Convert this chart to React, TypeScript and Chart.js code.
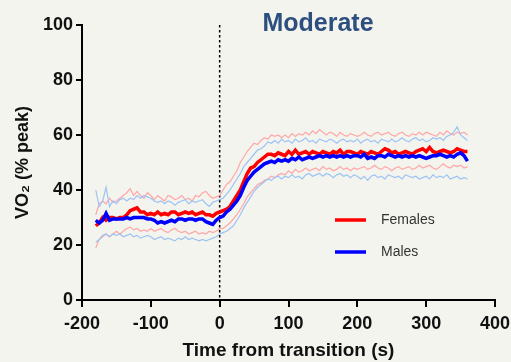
import React, { useEffect, useRef } from "react";
import { Chart, registerables } from "chart.js";

Chart.register(...registerables);

// Time from transition (s), 5-s bins
const times = [
  -180, -175, -170, -165, -160, -155, -150, -145, -140, -135, -130, -125, -120, -115, -110, -105, -100, -95, -90, -85,
  -80, -75, -70, -65, -60, -55, -50, -45, -40, -35, -30, -25, -20, -15, -10, -5, 0,
  5, 10, 15, 20, 25, 30, 35, 40, 45, 50, 55, 60, 65, 70, 75, 80, 85, 90, 95, 100,
  105, 110, 115, 120, 125, 130, 135, 140, 145, 150, 155, 160, 165, 170, 175, 180, 185, 190, 195, 200,
  205, 210, 215, 220, 225, 230, 235, 240, 245, 250, 255, 260, 265, 270, 275, 280, 285, 290, 295, 300,
  305, 310, 315, 320, 325, 330, 335, 340, 345, 350, 355, 360,
];

// VO2 (% peak) — females, mean
const femalesMean = [
  27, 28, 30, 29, 30, 30, 29.5, 30, 30, 31, 32.5, 33, 33.5, 32, 32, 31, 31.5, 31, 32, 31,
  31.5, 31, 32, 32, 31, 31.5, 32, 31.5, 32, 31, 31.5, 32, 31, 31, 30.5, 31.5, 32,
  32.5, 33, 34, 36, 38, 40, 43, 46, 48, 48.5, 50, 51, 52, 53, 53, 52.5, 53.5, 53, 52.5, 54,
  53, 54.5, 53, 53.5, 54, 53, 54, 53.5, 53, 54, 53.5, 53, 54, 53.5, 54.5, 53, 54, 54, 53.5, 53,
  54, 53.5, 53, 54, 53.5, 53, 54, 55, 54.5, 53.5, 54, 53, 53.5, 54, 53.5, 53, 54, 54.5, 55, 54,
  55.5, 54, 53.5, 54, 54.5, 54, 53.5, 54, 55, 54.5, 54, 54,
];
// females, mean + SD
const femalesHigh = [
  31, 35, 36, 35, 37, 35.5, 36, 37, 38, 39, 40.5, 38, 39.5, 38, 37, 39, 38, 36.5, 38, 37,
  36, 38, 37.5, 36.5, 37, 38, 36.5, 37, 36, 38, 37.5, 39, 39.5, 38, 37, 37.5, 38,
  40, 42, 43, 45, 47, 50, 52, 54, 55.5, 57, 56.5, 58, 59, 58.5, 60, 59.5, 60, 59, 60, 59,
  60.5, 59.5, 60.5, 60, 61, 60, 61.5, 60.5, 62, 61, 60, 61, 60.5, 59.5, 61, 60, 59.5, 60.5, 60, 59.5,
  60, 61, 60, 59.5, 60.5, 61, 60, 60.5, 61, 60, 59.5, 60.5, 61, 60, 59.5, 60.5, 60, 61, 60, 61,
  60.5, 60, 59.5, 61, 60, 61.5, 60.5, 60, 61, 60.5, 61, 60,
];
// females, mean - SD
const femalesLow = [
  19, 22, 23, 24, 23, 24, 25, 24, 25, 26, 26.5, 25.5, 26, 25, 25.5, 25, 26, 25, 25.5, 26,
  25, 24.5, 25.5, 26, 25, 24.5, 25, 24, 24.5, 25, 24, 24.5, 24, 25, 24.5, 25, 26,
  26, 27, 28, 29.5, 31, 33, 35, 37.5, 39, 40.5, 42, 42.5, 43.5, 44, 45, 44.5, 45.5, 46, 45.5, 47,
  46, 47.5, 46.5, 47, 48, 47, 47.5, 48, 47, 48.5, 47.5, 48, 47, 47.5, 48.5, 47.5, 48, 47, 48, 47.5,
  48, 48.5, 47.5, 48, 49, 48, 47.5, 48.5, 48, 47, 48, 48.5, 47.5, 48, 48.5, 47.5, 48, 49, 48, 48.5,
  49, 48, 47.5, 48.5, 49.5, 48.5, 48, 49, 48.5, 49, 48, 48.5,
];

// males, mean
const malesMean = [
  29, 28, 29, 31.5, 29, 29.5, 29.5, 29.5, 29.5, 30, 29.5, 30, 30, 30, 30, 29.5, 29.5, 29, 28, 28.5,
  28, 28.5, 29, 28.5, 29.5, 29.5, 29, 29.5, 29.5, 29, 29.5, 29.5, 28.5, 28, 27.5, 29, 30,
  30.5, 32, 33, 34.5, 36, 38, 41, 43.5, 45, 46.5, 47.5, 48.5, 49.5, 50, 50.5, 50, 51, 50.5, 51, 50.5,
  51.5, 51, 52, 51, 51.5, 52, 51.5, 52, 52.5, 52, 52.5, 52, 52.5, 52, 52.5, 52, 52.5, 52, 52.5, 52.5,
  52, 53, 51.5, 52, 51.5, 52.5, 52.5, 52, 53, 52.5, 52, 52.5, 52, 52.5, 52, 52.5, 52, 52.5, 52, 51.5,
  52, 52.5, 52.5, 53, 52.5, 52, 52.5, 52, 53, 53.5, 52.5, 50.5,
];
// males, mean + SD
const malesHigh = [
  40, 34, 36, 41, 34, 36, 35, 36.5, 37, 36, 37, 36.5, 38, 37, 38, 37.5, 37, 36, 35.5, 36,
  35, 36, 35.5, 34.5, 35.5, 36, 36.5, 35, 36, 35.5, 36, 36.5, 35, 34, 35.5, 36, 36.5,
  37, 38.5, 40, 42, 44, 46, 48.5, 50, 51.5, 53, 54.5, 55, 56, 57.5, 57, 58, 57, 58.5, 57.5, 58,
  57, 58.5, 57.5, 58, 59, 57.5, 58, 57, 58.5, 58, 57.5, 58.5, 58, 57, 58, 58.5, 57.5, 58, 57.5, 58.5,
  57, 58, 58.5, 57.5, 58, 57, 58.5, 58, 57.5, 58.5, 57.5, 58, 59, 58, 57.5, 58.5, 59, 58, 58.5, 57.5,
  58, 59, 58.5, 59, 58, 59.5, 60, 61, 63, 60, 59, 58,
];
// males, mean - SD
const malesLow = [
  21, 22, 23.5, 24, 23, 24, 23.5, 24, 23, 23.5, 24, 23, 23.5, 22.5, 23, 23.5, 23, 22, 22.5, 23,
  22, 22.5, 22, 21.5, 22.5, 22, 23, 22, 22.5, 22, 21.5, 22, 21.5, 22, 22.5, 23, 24,
  24.5, 25, 26, 27, 29, 31, 33.5, 35.5, 37.5, 39.5, 41, 42, 43, 44, 43.5, 44.5, 45, 44, 45, 44.5,
  45.5, 44.5, 45, 44, 45.5, 46, 45, 45.5, 46, 45, 46, 45.5, 44.5, 45.5, 46, 45, 45.5, 44.5, 45.5, 45,
  44, 45, 43.5, 45, 45.5, 44.5, 45, 44, 45.5, 45, 44.5, 45, 44, 45.5, 45, 44.5, 45, 44, 44.5, 45,
  44, 45.5, 44.5, 45, 44.5, 45.5, 44, 44.5, 45, 44, 44.5, 44,
];

const xTicks = [-200, -100, 0, 100, 200, 300, 400];
const yTicks = [0, 20, 40, 60, 80, 100];
const legendItems = [
  { label: "Females", color: "#ff0000" },
  { label: "Males", color: "#0000ff" },
];

const FONT = "'Liberation Sans', Arial, sans-serif";
const BG = "#f4f4ef";

const toPoints = (ys: number[]) => times.map((t, i) => ({ x: t, y: ys[i] }));

const decorPlugin = {
  id: "decor",
  beforeDraw(chart: any) {
    const { ctx, width, height } = chart;
    ctx.save();
    ctx.fillStyle = BG;
    ctx.fillRect(0, 0, width, height);
    ctx.restore();
  },
  beforeDatasetsDraw(chart: any) {
    const { ctx, scales, chartArea } = chart;
    const x0 = scales.x.getPixelForValue(0);
    ctx.save();
    ctx.strokeStyle = "#000";
    ctx.lineWidth = 1.5;
    ctx.setLineDash([2.5, 2.5]);
    ctx.beginPath();
    ctx.moveTo(x0, chartArea.top);
    ctx.lineTo(x0, chartArea.bottom);
    ctx.stroke();
    ctx.restore();
  },
  afterDraw(chart: any) {
    const { ctx, chartArea } = chart;
    ctx.save();
    // Panel title
    ctx.fillStyle = "#2d4f7f";
    ctx.font = `bold 25px ${FONT}`;
    ctx.textAlign = "center";
    ctx.textBaseline = "middle";
    ctx.fillText("Moderate", chartArea.left + 236, 24);

    // Legend
    ctx.font = `14px ${FONT}`;
    ctx.textAlign = "left";
    legendItems.forEach((item, i) => {
      const y = chartArea.top + 195 + i * 32;
      const x = chartArea.left + 253;
      ctx.strokeStyle = item.color;
      ctx.lineWidth = 3.5;
      ctx.beginPath();
      ctx.moveTo(x, y);
      ctx.lineTo(x + 31, y);
      ctx.stroke();
      ctx.fillStyle = "#333";
      ctx.fillText(item.label, x + 46, y);
    });
    ctx.restore();
  },
};

export default function App() {
  const canvasRef = useRef<HTMLCanvasElement | null>(null);

  useEffect(() => {
    const canvas = canvasRef.current;
    if (!canvas) return;
    const band = (data: number[], color: string) => ({
      data: toPoints(data),
      borderColor: color,
      borderWidth: 1.2,
      pointRadius: 0,
      tension: 0,
      fill: false,
    });
    const chart = new Chart(canvas, {
      type: "line",
      data: {
        datasets: [
          { label: "Males", data: toPoints(malesMean), borderColor: "#0000ff", borderWidth: 3.5, pointRadius: 0, tension: 0, fill: false },
          { label: "Females", data: toPoints(femalesMean), borderColor: "#ff0000", borderWidth: 3.5, pointRadius: 0, tension: 0, fill: false },
          band(malesHigh, "#9cc3f5"),
          band(malesLow, "#9cc3f5"),
          band(femalesHigh, "#ffa6a6"),
          band(femalesLow, "#ffa6a6"),
        ],
      },
      options: {
        responsive: false,
        animation: false,
        layout: { padding: { top: 25, right: 16, left: 0, bottom: 0 } },
        plugins: { legend: { display: false }, tooltip: { enabled: false } },
        scales: {
          x: {
            type: "linear",
            min: -200,
            max: 400,
            afterBuildTicks: (s: any) => {
              s.ticks = xTicks.map((v) => ({ value: v }));
            },
            afterFit: (s: any) => {
              s.height = 62;
              s.paddingLeft = 0;
              s.paddingRight = 0;
            },
            border: { color: "#000", width: 2 },
            grid: { drawOnChartArea: false, drawTicks: true, tickLength: 7, color: "#000", lineWidth: 2 },
            ticks: { color: "#111", padding: 6, maxRotation: 0, font: { family: FONT, size: 18, weight: "bold" } },
            title: {
              display: true,
              text: "Time from transition (s)",
              color: "#111",
              padding: { top: 0, bottom: 0 },
              font: { family: FONT, size: 19, weight: "bold" },
            },
          },
          y: {
            type: "linear",
            min: 0,
            max: 100,
            afterBuildTicks: (s: any) => {
              s.ticks = yTicks.map((v) => ({ value: v }));
            },
            afterFit: (s: any) => {
              s.width = 82;
              s.paddingTop = 0;
              s.paddingBottom = 0;
            },
            border: { color: "#000", width: 2 },
            grid: { drawOnChartArea: false, drawTicks: true, tickLength: 6, color: "#000", lineWidth: 2 },
            ticks: { color: "#111", padding: 3, font: { family: FONT, size: 18, weight: "bold" } },
            title: {
              display: true,
              text: "VO\u2082 (% peak)",
              color: "#111",
              padding: { top: 12, bottom: 0 },
              font: { family: FONT, size: 18, weight: "bold" },
            },
          },
        },
      },
      plugins: [decorPlugin],
    } as any);
    return () => chart.destroy();
  }, []);

  return (
    <div style={{ position: "fixed", left: 0, top: 0, width: 511, height: 362, background: BG }}>
      <canvas ref={canvasRef} width={511} height={362} style={{ display: "block" }} />
    </div>
  );
}
